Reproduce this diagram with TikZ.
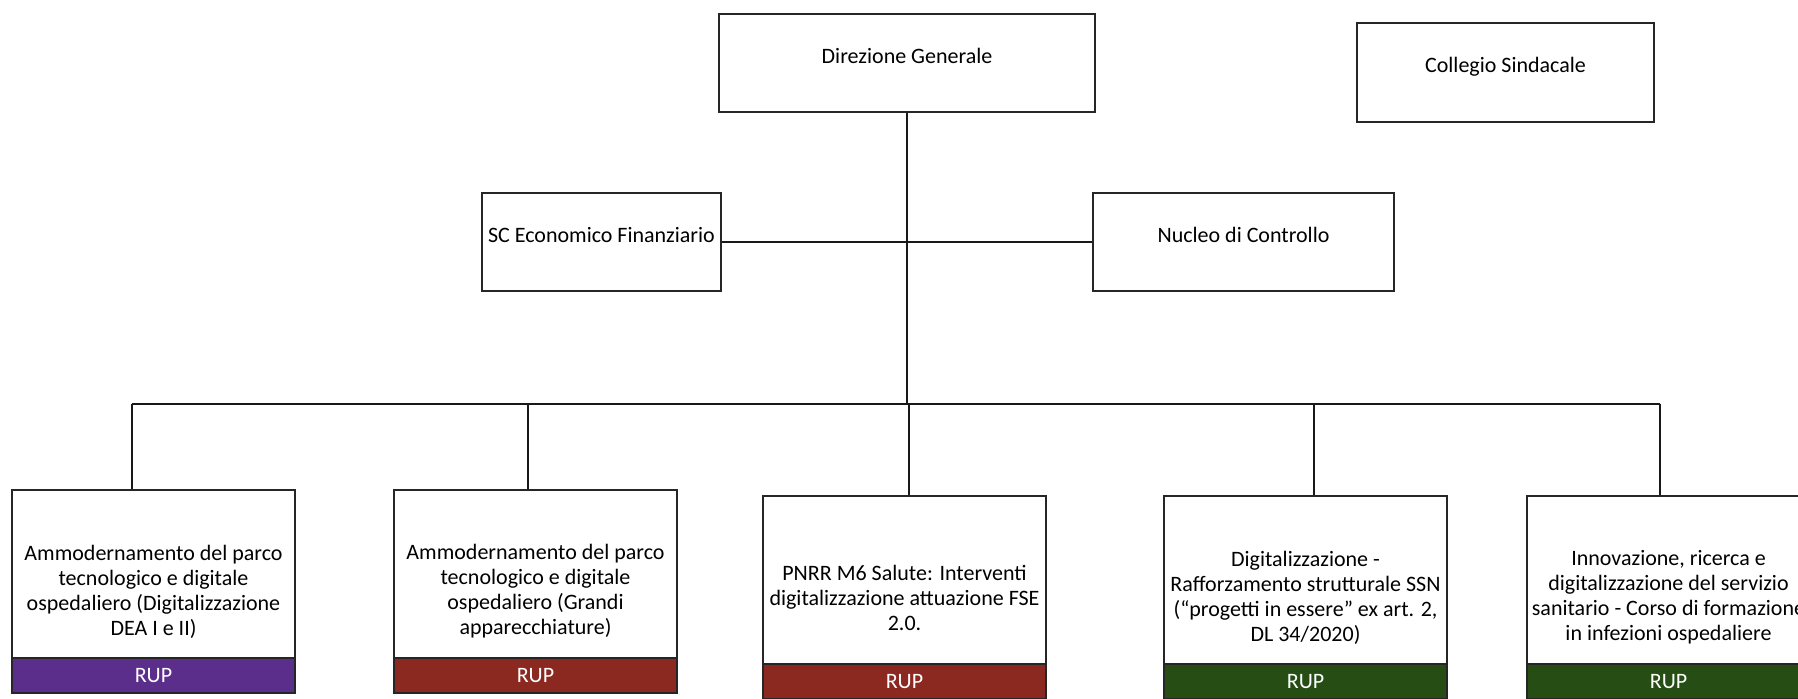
\documentclass[tikz,border=0pt]{standalone}
\usepackage{fontspec}
\setmainfont{Carlito}
\usetikzlibrary{positioning}
\definecolor{rupviola}{RGB}{91,46,140}
\definecolor{rupred}{RGB}{139,40,32}
\definecolor{rupgreen}{RGB}{37,77,20}

\begin{document}
\begin{tikzpicture}[x=0.5pt,y=-0.5pt,
  every node/.style={font=\fontsize{11}{12.5}\selectfont},
  box/.style={draw=black!85,line width=1.2pt,fill=white,align=center,inner sep=2pt},
  topbox/.style={box,minimum height=49pt,text height=8pt,text depth=8pt},
  projbox/.style={box,minimum width=141.5pt,minimum height=101.5pt},
  rupband/.style={draw=black!85,line width=1.2pt,minimum width=141.5pt,minimum height=17.5pt,
    anchor=south,text=white,inner sep=0pt},
  link/.style={draw=black!90,line width=0.9pt}]
  \useasboundingbox (0,0) rectangle (1798,698);

  % vertici
  \node[topbox,minimum width=188pt] (dg) at (907,63) {Direzione Generale};
  \node[topbox,minimum width=148.5pt,minimum height=49.5pt] (cs) at (1505.5,72.5) {Collegio Sindacale};
  \node[topbox,minimum width=119.5pt] (sc) at (601.5,242) {SC Economico Finanziario};
  \node[topbox,minimum width=150.5pt] (nc) at (1243.5,242) {Nucleo di Controllo};

  % progetti
  \node[projbox] (p1) at (153.5,591.5) {Ammodernamento del parco\\tecnologico e digitale\\ospedaliero (Digitalizzazione\\DEA I e II)};
  \node[projbox] (p2) at (535.5,591.5) {Ammodernamento del parco\\tecnologico e digitale\\ospedaliero (Grandi\\apparecchiature)};
  \node[projbox] (p3) at (904.5,597.5) {PNRR M6 Salute: Interventi\\digitalizzazione attuazione FSE\\2.0.};
  \node[projbox] (p4) at (1305.5,597.5) {Digitalizzazione -\\Rafforzamento strutturale SSN\\(“progetti in essere” ex art. 2,\\DL 34/2020)};
  \node[projbox] (p5) at (1668.5,597.5) {Innovazione, ricerca e\\digitalizzazione del servizio\\sanitario - Corso di formazione\\in infezioni ospedaliere};

  \node[rupband,fill=rupviola] (r1) at (p1.south) {RUP};
  \node[rupband,fill=rupred] (r2) at (p2.south) {RUP};
  \node[rupband,fill=rupred] (r3) at (p3.south) {RUP};
  \node[rupband,fill=rupgreen] (r4) at (p4.south) {RUP};
  \node[rupband,fill=rupgreen] (r5) at (p5.south) {RUP};

  % collegamenti
  \coordinate (bus) at (909,404);
  \coordinate (d1) at (132,404);
  \coordinate (d2) at (528,404);
  \coordinate (d4) at (1314,404);
  \coordinate (d5) at (1660,404);
  \draw[link] (sc.east) -- (nc.west);
  \draw[link] (bus -| dg.south) -- (dg.south);
  \draw[link] (d1) -- (d5);
  \draw[link] (d1) -- (d1 |- p1.north);
  \draw[link] (d2) -- (d2 |- p2.north);
  \draw[link] (bus) -- (bus |- p3.north);
  \draw[link] (d4) -- (d4 |- p4.north);
  \draw[link] (d5) -- (d5 |- p5.north);
\end{tikzpicture}
\end{document}
